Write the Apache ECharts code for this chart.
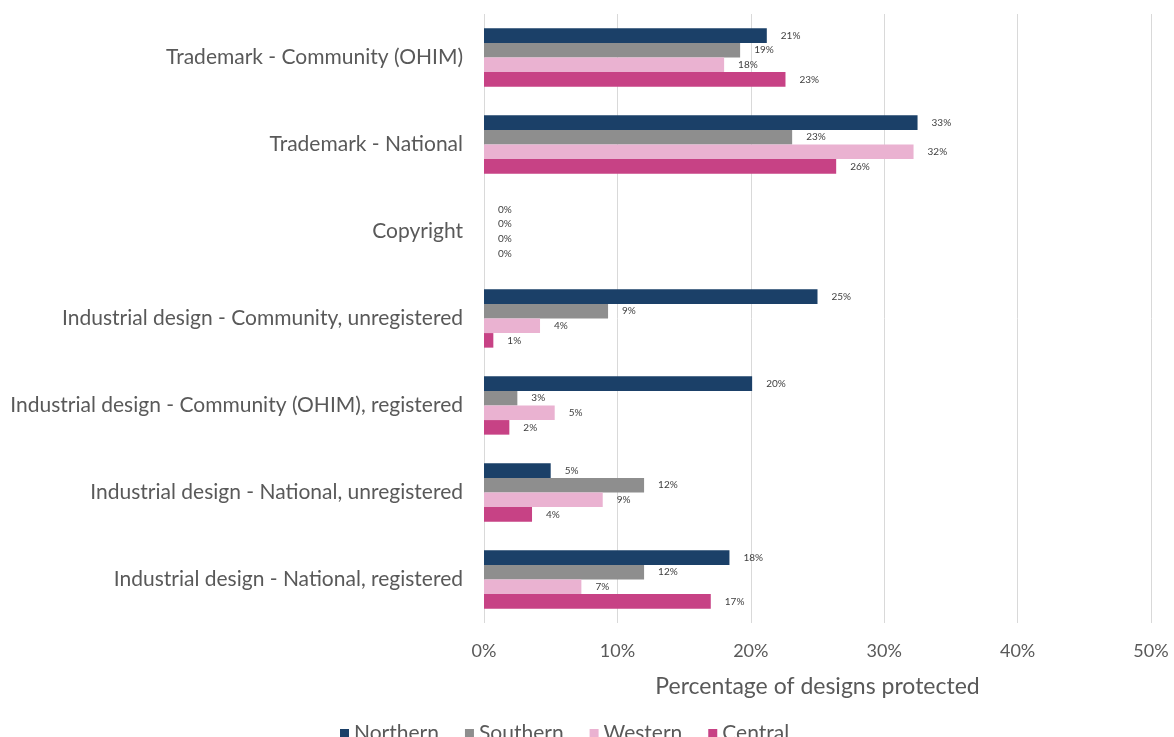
<!DOCTYPE html>
<html>
<head>
<meta charset="utf-8">
<script src="https://cdn.jsdelivr.net/npm/echarts@6/dist/echarts.min.js"></script>
<style>
  html, body { margin: 0; padding: 0; background: #ffffff; }
  #chart { width: 1174px; height: 737px; }
</style>
</head>
<body>
<div id="chart"></div>
<script>
// Protection types, listed top to bottom
const categories = [
  'Trademark - Community (OHIM)',
  'Trademark - National',
  'Copyright',
  'Industrial design - Community, unregistered',
  'Industrial design - Community (OHIM), registered',
  'Industrial design - National, unregistered',
  'Industrial design - National, registered'
];

// Share of designs protected (%), by region
const northern = [21.2, 32.5, 0, 25.0, 20.1, 5.0, 18.4];
const southern = [19.2, 23.1, 0, 9.3, 2.5, 12.0, 12.0];
const western  = [18.0, 32.2, 0, 4.2, 5.3, 8.9, 7.3];
const central  = [22.6, 26.4, 0, 0.7, 1.9, 3.6, 17.0];

const seriesNames = ['Northern', 'Southern', 'Western', 'Central'];
const seriesColors = ['#1b4068', '#8e8e8e', '#eab2d1', '#c74285'];
const xTicks = [0, 10, 20, 30, 40, 50];

const FONT = 'Lato, "Open Sans", sans-serif';
const TEXT = '#595959';

const chart = echarts.init(document.getElementById('chart'), null, { renderer: 'canvas' });

const makeSeries = (name, values, color) => ({
  name,
  type: 'bar',
  data: values,
  barCategoryGap: '33%',
  barGap: '0%',
  itemStyle: { color },
  label: {
    show: true,
    position: 'right',
    distance: 14,
    fontFamily: FONT,
    fontSize: 10,
    color: '#404040',
    formatter: p => Math.round(p.value) + '%'
  }
});

chart.setOption({
  animation: false,
  backgroundColor: '#ffffff',
  grid: { left: 484, right: 23, top: 14, bottom: 114, containLabel: false },
  legend: {
    data: seriesNames,
    left: 335,
    top: 718,
    itemWidth: 9,
    itemHeight: 9,
    itemGap: 26,
    icon: 'rect',
    textStyle: { fontFamily: FONT, fontSize: 21, color: TEXT }
  },
  xAxis: {
    type: 'value',
    min: xTicks[0],
    max: xTicks[xTicks.length - 1],
    interval: 10,
    name: 'Percentage of designs protected',
    nameLocation: 'middle',
    nameGap: 52,
    nameTextStyle: { fontFamily: FONT, fontSize: 23, color: TEXT },
    axisLine: { show: false },
    axisTick: { show: false },
    axisLabel: {
      margin: 19,
      fontFamily: FONT,
      fontSize: 18,
      color: TEXT,
      formatter: v => v + '%'
    },
    splitLine: { show: true, lineStyle: { color: '#d9d9d9', width: 1 } }
  },
  yAxis: {
    type: 'category',
    data: categories,
    inverse: true,
    axisLine: { show: false },
    axisTick: { show: false },
    axisLabel: { margin: 21, fontFamily: FONT, fontSize: 21, color: TEXT }
  },
  series: [
    makeSeries(seriesNames[0], northern, seriesColors[0]),
    makeSeries(seriesNames[1], southern, seriesColors[1]),
    makeSeries(seriesNames[2], western, seriesColors[2]),
    makeSeries(seriesNames[3], central, seriesColors[3])
  ]
});
</script>
</body>
</html>
